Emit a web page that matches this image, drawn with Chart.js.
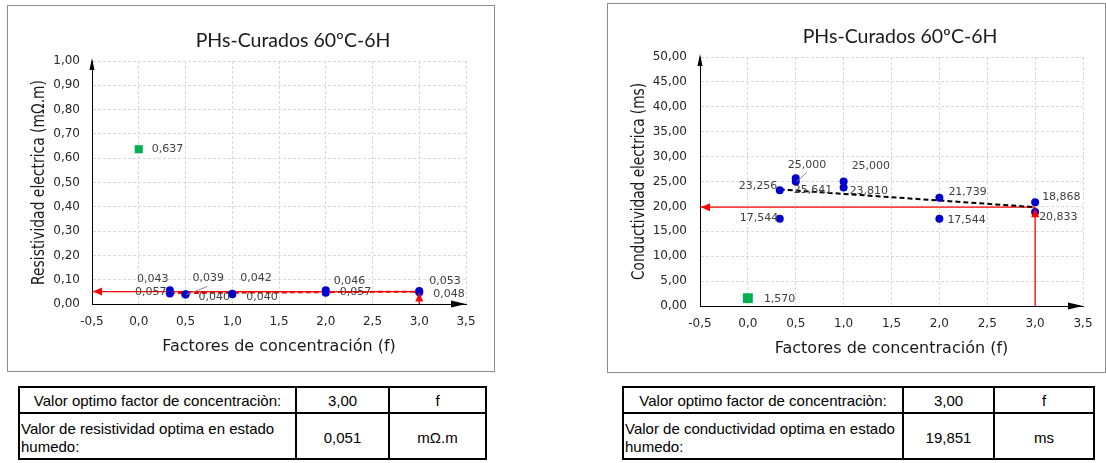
<!DOCTYPE html>
<html lang="es">
<head>
<meta charset="UTF-8">
<title>PHs-Curados 60ºC-6H</title>
<script src="https://cdn.jsdelivr.net/npm/chart.js"></script>
<style>
  body { margin: 0; width: 1106px; height: 463px; background: #fff; position: relative; overflow: hidden; }
  .marco { position: absolute; border: 1px solid #8c8c8c; background: #fff; }
  .marco canvas { position: absolute; left: 0; top: 0; }
  table.resumen { position: absolute; border-collapse: collapse; table-layout: fixed;
    font-family: "Liberation Sans", Arial, sans-serif; font-size: 15px; color: #000; }
  table.resumen td { border: 2px solid #000; text-align: center; padding: 0 2px; white-space: nowrap; }
  table.resumen tr.f1 td { height: 24px; }
  table.resumen tr.f2 td { height: 41px; line-height: 18px; padding-top: 3px; padding-bottom: 0; }
  table.resumen td.izq { text-align: left; padding-left: 1px; }
</style>
</head>
<body>
  <div class="marco" style="left:7px; top:5px; width:486px; height:365px;">
    <canvas id="graficoResistividad" width="486" height="365"></canvas>
  </div>
  <div class="marco" style="left:607px; top:3px; width:497px; height:368px;">
    <canvas id="graficoConductividad" width="497" height="368"></canvas>
  </div>

  <table class="resumen" style="left:18px; top:386px; width:467px;">
    <colgroup><col style="width:277px"><col style="width:93px"><col style="width:97px"></colgroup>
    <tr class="f1"><td>Valor optimo factor de concentraciòn:</td><td id="t1x"></td><td>f</td></tr>
    <tr class="f2"><td class="izq">Valor de resistividad optima en estado<br>humedo:</td><td id="t1y"></td><td>mΩ.m</td></tr>
  </table>
  <table class="resumen" style="left:622px; top:386px; width:471px;">
    <colgroup><col style="width:280px"><col style="width:91px"><col style="width:100px"></colgroup>
    <tr class="f1"><td>Valor optimo factor de concentraciòn:</td><td id="t2x"></td><td>f</td></tr>
    <tr class="f2"><td class="izq">Valor de conductividad optima en estado<br>humedo:</td><td id="t2y"></td><td>ms</td></tr>
  </table>

<script>
  // datos
  const factores = [0.333, 0.333, 0.5, 0.5, 1.0, 1.0, 2.0, 2.0, 3.0, 3.0];
  const resistividad = [0.043, 0.057, 0.039, 0.040, 0.040, 0.042, 0.046, 0.057, 0.048, 0.053];
  const conductividad = [23.256, 17.544, 25.641, 25.000, 25.000, 23.810, 21.739, 17.544, 20.833, 18.868];
  const factorBlanco = [0.0];
  const resistividadBlanco = [0.637];
  const conductividadBlanco = [1.570];
  const tendenciaX = [0.333, 3.0];
  const tendenciaResistividad = [0.045, 0.051];
  const tendenciaConductividad = [23.4, 19.851];
  const factorOptimo = 3.00;
  const resistividadOptima = 0.051;
  const conductividadOptima = 19.851;
  const ticksX = [-0.5, 0.0, 0.5, 1.0, 1.5, 2.0, 2.5, 3.0, 3.5];
  const ticksResistividad = [0, 0.1, 0.2, 0.3, 0.4, 0.5, 0.6, 0.7, 0.8, 0.9, 1.0];
  const ticksConductividad = [0, 5, 10, 15, 20, 25, 30, 35, 40, 45, 50];

  // desplazamiento de las etiquetas respecto al punto (px)
  const offsetsRes = [[-33, -14], [-35, 2], [7, -16], [13, 3], [14, 3], [8, -16], [8, -12], [14, 2], [14, 2], [10, -10]];
  const offsetsCon = [[-41, -4], [-40, 0], [-2, 12], [-8, -16], [8, -15], [6, 4], [9, -6], [8, 2], [4, 15], [7, -15]];

  const coma = (v, d) => v.toFixed(d).replace('.', ',');

  document.getElementById('t1x').textContent = coma(factorOptimo, 2);
  document.getElementById('t1y').textContent = coma(resistividadOptima, 3);
  document.getElementById('t2x').textContent = coma(factorOptimo, 2);
  document.getElementById('t2y').textContent = coma(conductividadOptima, 3);

  Chart.defaults.font.family = '"DejaVu Sans", sans-serif';
  Chart.defaults.color = '#262626';

  function puntos(xs, ys) {
    return xs.map((x, i) => ({ x: x, y: ys[i] }));
  }

  function flecha(ctx, x, y, dx, dy, largo, ancho) {
    // punta en (x,y), dirigida segun (dx,dy)
    const nx = -dy, ny = dx;
    ctx.beginPath();
    ctx.moveTo(x, y);
    ctx.lineTo(x - dx * largo + nx * ancho, y - dy * largo + ny * ancho);
    ctx.lineTo(x - dx * largo - nx * ancho, y - dy * largo - ny * ancho);
    ctx.closePath();
    ctx.fill();
  }

  function extras(cfg) {
    return {
      id: 'extras',
      afterDraw(chart) {
        const { ctx, chartArea: a, scales: { x, y } } = chart;
        ctx.save();

        // titulo
        ctx.fillStyle = '#1a1a1a';
        ctx.font = '19.5px Lato, sans-serif';
        ctx.textAlign = 'center';
        ctx.textBaseline = 'middle';
        ctx.fillText('PHs-Curados 60ºC-6H', cfg.tituloX, cfg.tituloY);

        // titulo eje y (comprimido como en el original)
        ctx.save();
        ctx.translate(cfg.ejeYX, (a.top + a.bottom) / 2);
        ctx.rotate(-Math.PI / 2);
        ctx.font = '18px "DejaVu Sans", sans-serif';
        const w = ctx.measureText(cfg.ejeY).width;
        ctx.scale(cfg.ejeYLargo / w, 1);
        ctx.fillText(cfg.ejeY, 0, 0);
        ctx.restore();

        // flechas de los ejes
        ctx.fillStyle = '#000';
        flecha(ctx, a.right, a.bottom, 1, 0, 15, 3.5);
        flecha(ctx, a.left, a.top - 3, 0, -1, 12, 2.5);

        // flechas rojas del optimo
        const px = x.getPixelForValue(factorOptimo);
        const py = y.getPixelForValue(cfg.optimo);
        ctx.fillStyle = '#ff0000';
        flecha(ctx, a.left + 1, py, -1, 0, 9, 4);
        flecha(ctx, px, py + 1, 0, -1, 9, 4);

        // etiquetas de datos
        ctx.font = '11px "DejaVu Sans", sans-serif';
        ctx.fillStyle = '#404040';
        ctx.textAlign = 'left';
        cfg.valores.forEach((v, i) => {
          const ox = x.getPixelForValue(factores[i]);
          const oy = y.getPixelForValue(v);
          ctx.fillText(coma(v, 3), ox + cfg.offsets[i][0], oy + cfg.offsets[i][1]);
        });
        const bx = x.getPixelForValue(factorBlanco[0]);
        const by = y.getPixelForValue(cfg.blanco[0]);
        ctx.fillText(coma(cfg.blanco[0], 3), bx + cfg.offBlanco[0], by + cfg.offBlanco[1]);

        // linea guia de etiqueta
        const gi = cfg.guia[0];
        const gx = x.getPixelForValue(factores[gi]);
        const gy = y.getPixelForValue(cfg.valores[gi]);
        ctx.strokeStyle = '#8c8c8c';
        ctx.lineWidth = 1;
        ctx.beginPath();
        ctx.moveTo(gx + cfg.guia[1], gy + cfg.guia[2]);
        ctx.lineTo(gx + cfg.guia[3], gy + cfg.guia[4]);
        ctx.stroke();

        ctx.restore();
      }
    };
  }

  function crearGrafico(id, cfg) {
    return new Chart(document.getElementById(id), {
      type: 'scatter',
      data: {
        datasets: [
          {
            data: puntos(factores, cfg.valores),
            backgroundColor: '#0000cc', borderColor: '#0000cc',
            pointRadius: 4, pointBorderWidth: 0
          },
          {
            data: puntos(factorBlanco, cfg.blanco),
            pointStyle: 'rect', backgroundColor: '#00b050', borderColor: '#00b050',
            pointRadius: cfg.radioBlanco, pointBorderWidth: 0
          },
          {
            type: 'line',
            data: puntos(tendenciaX, cfg.tendencia),
            borderColor: cfg.colorTendencia, borderWidth: 2, borderDash: [5, 3],
            pointRadius: 0, fill: false
          },
          {
            type: 'line',
            data: puntos([factorOptimo, ticksX[0]], [cfg.optimo, cfg.optimo]),
            borderColor: '#ff0000', borderWidth: 1.3, pointRadius: 0, fill: false
          },
          {
            type: 'line',
            data: puntos([factorOptimo, factorOptimo], [cfg.ticksY[0], cfg.optimo]),
            borderColor: '#ff0000', borderWidth: 1.3, pointRadius: 0, fill: false
          }
        ]
      },
      options: {
        responsive: false,
        animation: false,
        layout: { padding: { top: cfg.arriba, right: cfg.derecha, left: 0, bottom: 0 } },
        plugins: { legend: { display: false }, tooltip: { enabled: false } },
        scales: {
          x: {
            type: 'linear', min: ticksX[0], max: ticksX[ticksX.length - 1],
            afterBuildTicks: s => { s.ticks = ticksX.map(v => ({ value: v })); },
            afterFit: s => { s.height = cfg.altoX; },
            grid: { color: '#d9d9d9', drawTicks: false },
            border: { color: '#000', width: 1, dash: [3, 2] },
            ticks: { padding: 11, font: { size: 12 }, callback: v => coma(v, 1) },
            title: { display: true, text: 'Factores de concentración (f)', color: '#1a1a1a',
              font: { size: 16 }, padding: { top: 0, bottom: cfg.tituloXPad } }
          },
          y: {
            type: 'linear', min: cfg.ticksY[0], max: cfg.ticksY[cfg.ticksY.length - 1],
            afterBuildTicks: s => { s.ticks = cfg.ticksY.map(v => ({ value: v })); },
            afterFit: s => { s.width = cfg.anchoY; },
            grid: { color: '#d9d9d9', drawTicks: false },
            border: { color: '#000', width: 1, dash: [3, 2] },
            ticks: { padding: cfg.padY, font: { size: 12 }, callback: v => coma(v, 2) }
          }
        }
      },
      plugins: [extras(cfg)]
    });
  }

  crearGrafico('graficoResistividad', {
    valores: resistividad, blanco: resistividadBlanco, tendencia: tendenciaResistividad,
    optimo: resistividadOptima, ticksY: ticksResistividad, colorTendencia: '#ff0000',
    offsets: offsetsRes, offBlanco: [13, 0], guia: [2, 1, 0, 22, -8], radioBlanco: 5.7,
    arriba: 55, derecha: 28, altoX: 67, anchoY: 84, padY: 12, tituloXPad: 15,
    tituloX: 285, tituloY: 35, ejeY: 'Resistividad electrica (mΩ.m)', ejeYX: 31, ejeYLargo: 205
  });

  crearGrafico('graficoConductividad', {
    valores: conductividad, blanco: conductividadBlanco, tendencia: tendenciaConductividad,
    optimo: conductividadOptima, ticksY: ticksConductividad, colorTendencia: '#000',
    offsets: offsetsCon, offBlanco: [16, 1], guia: [3, 1, 0, 11, -9], radioBlanco: 7,
    arriba: 53, derecha: 22, altoX: 66, anchoY: 92, padY: 13, tituloXPad: 14,
    tituloX: 292, tituloY: 33, ejeY: 'Conductividad electrica (ms)', ejeYX: 31, ejeYLargo: 197
  });
</script>
</body>
</html>
